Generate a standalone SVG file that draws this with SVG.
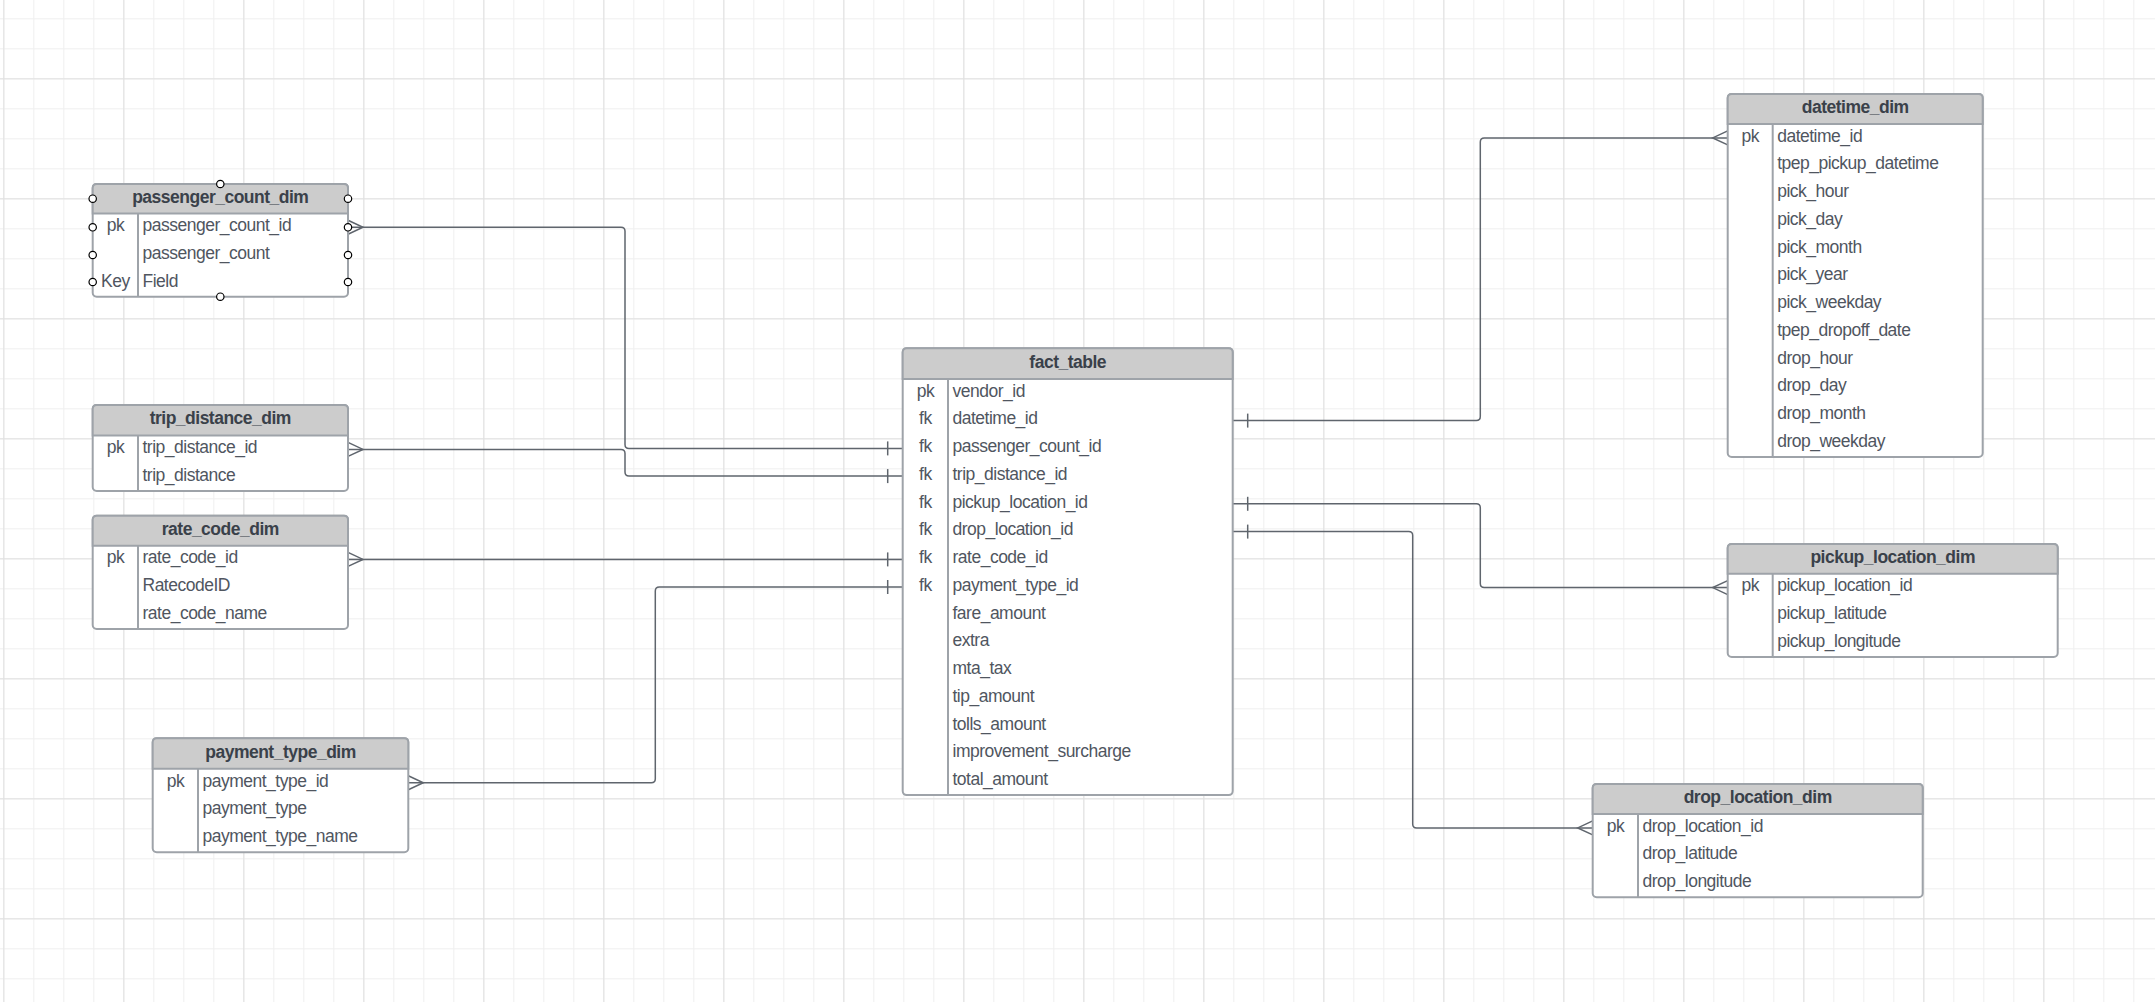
<svg xmlns="http://www.w3.org/2000/svg" width="2155" height="1002" viewBox="0 0 2155 1002">
<style>
.box{fill:#ffffff;stroke:#9ea3a9;stroke-width:2}
.hdr{fill:#cccccc;stroke:#9ea3a9;stroke-width:2}
.sep{stroke:#9ea3a9;stroke-width:2;fill:none}
.ttl{font-family:"Liberation Sans",Arial,sans-serif;font-size:17.5px;letter-spacing:-0.5px;font-weight:bold;fill:#3a414a;text-anchor:middle}
.fld{font-family:"Liberation Sans",Arial,sans-serif;font-size:17.5px;letter-spacing:-0.5px;fill:#50565f}
.key{font-family:"Liberation Sans",Arial,sans-serif;font-size:17.5px;letter-spacing:-0.5px;fill:#50565f;text-anchor:middle}
.con{fill:none;stroke:#5f656d;stroke-width:1.5}
.hnd{fill:#ffffff;stroke:#000000;stroke-width:1.2}
</style>
<defs>
<pattern id="gmin" patternUnits="userSpaceOnUse" x="3.33" y="18.33" width="30" height="30">
<rect x="0" y="0" width="30" height="1" fill="#efefef"/>
<rect x="0" y="0" width="1" height="30" fill="#efefef"/>
</pattern>
<pattern id="gmaj" patternUnits="userSpaceOnUse" x="3.33" y="78.33" width="120" height="120">
<rect x="0" y="0" width="120" height="1" fill="#e0e0e0"/>
<rect x="0" y="0" width="1" height="120" fill="#e0e0e0"/>
</pattern>
<marker id="many" markerUnits="userSpaceOnUse" markerWidth="20" markerHeight="20" refX="15" refY="0" orient="auto-start-reverse" overflow="visible">
<path d="M15,-7 L0,0 L15,7" fill="none" stroke="#5f656d" stroke-width="1.5"/>
</marker>
<marker id="one" markerUnits="userSpaceOnUse" markerWidth="20" markerHeight="20" refX="15" refY="0" orient="auto-start-reverse" overflow="visible">
<path d="M0,-7 L0,7" fill="none" stroke="#5f656d" stroke-width="1.5"/>
</marker>
</defs>
<rect x="0" y="0" width="2155" height="1002" fill="#ffffff"/>
<rect x="0" y="0" width="2155" height="1002" fill="url(#gmin)"/>
<rect x="0" y="0" width="2155" height="1002" fill="url(#gmaj)"/>

<g id="connectors">
<path class="con" marker-start="url(#many)" marker-end="url(#one)" d="M348,227.3 H621 Q625,227.3 625,231.3 V444.4 Q625,448.4 629,448.4 H902.7"/>
<path class="con" marker-start="url(#many)" marker-end="url(#one)" d="M348,449.4 H621 Q625,449.4 625,453.4 V472.1 Q625,476.1 629,476.1 H902.7"/>
<path class="con" marker-start="url(#many)" marker-end="url(#one)" d="M348,559.4 H902.7"/>
<path class="con" marker-start="url(#many)" marker-end="url(#one)" d="M408.3,782.7 H651.3 Q655.3,782.7 655.3,778.7 V591 Q655.3,587 659.3,587 H902.7"/>
<path class="con" marker-start="url(#one)" marker-end="url(#many)" d="M1232.7,420.6 H1476.3 Q1480.3,420.6 1480.3,416.6 V141.9 Q1480.3,137.9 1484.3,137.9 H1727.7"/>
<path class="con" marker-start="url(#one)" marker-end="url(#many)" d="M1232.7,503.8 H1476.3 Q1480.3,503.8 1480.3,507.8 V583.6 Q1480.3,587.6 1484.3,587.6 H1727.7"/>
<path class="con" marker-start="url(#one)" marker-end="url(#many)" d="M1232.7,531.6 H1408.7 Q1412.7,531.6 1412.7,535.6 V823.9 Q1412.7,827.9 1416.7,827.9 H1592.7"/>
</g>

<g id="passenger_count_dim">
<rect class="box" x="92.7" y="184" width="255.3" height="112.7" rx="4"/>
<path class="hdr" d="M92.7,213.5 V188 Q92.7,184 96.7,184 H344 Q348,184 348,188 V213.5 Z"/>
<path class="sep" d="M138,213.5 V296.7"/>
<text class="ttl" x="220.3" y="202.8">passenger_count_dim</text>
<text class="key" x="115.4" y="231.2">pk</text>
<text class="fld" x="142.5" y="231.2">passenger_count_id</text>
<text class="fld" x="142.5" y="258.9">passenger_count</text>
<text class="key" x="115.4" y="286.7">Key</text>
<text class="fld" x="142.5" y="286.7">Field</text>
<circle class="hnd" cx="220.3" cy="184" r="3.7"/>
<circle class="hnd" cx="220.3" cy="296.7" r="3.7"/>
<circle class="hnd" cx="92.7" cy="198.7" r="3.7"/>
<circle class="hnd" cx="348" cy="198.7" r="3.7"/>
<circle class="hnd" cx="92.7" cy="227.3" r="3.7"/>
<circle class="hnd" cx="92.7" cy="255" r="3.7"/>
<circle class="hnd" cx="92.7" cy="282" r="3.7"/>
<circle class="hnd" cx="348" cy="227.3" r="3.7"/>
<circle class="hnd" cx="348" cy="255" r="3.7"/>
<circle class="hnd" cx="348" cy="282" r="3.7"/>
</g>

<g id="trip_distance_dim">
<rect class="box" x="92.7" y="405" width="255.3" height="86" rx="4"/>
<path class="hdr" d="M92.7,435.5 V409 Q92.7,405 96.7,405 H344 Q348,405 348,409 V435.5 Z"/>
<path class="sep" d="M138,435.5 V491"/>
<text class="ttl" x="220.3" y="424.3">trip_distance_dim</text>
<text class="key" x="115.4" y="453.2">pk</text>
<text class="fld" x="142.5" y="453.2">trip_distance_id</text>
<text class="fld" x="142.5" y="480.9">trip_distance</text>
</g>

<g id="rate_code_dim">
<rect class="box" x="92.7" y="515.7" width="255.3" height="113.2" rx="4"/>
<path class="hdr" d="M92.7,545.7 V519.7 Q92.7,515.7 96.7,515.7 H344 Q348,515.7 348,519.7 V545.7 Z"/>
<path class="sep" d="M138,545.7 V628.9"/>
<text class="ttl" x="220.3" y="534.8">rate_code_dim</text>
<text class="key" x="115.4" y="563.4">pk</text>
<text class="fld" x="142.5" y="563.4">rate_code_id</text>
<text class="fld" x="142.5" y="591.1">RatecodeID</text>
<text class="fld" x="142.5" y="618.9">rate_code_name</text>
</g>

<g id="payment_type_dim">
<rect class="box" x="152.7" y="738.3" width="255.6" height="113.9" rx="4"/>
<path class="hdr" d="M152.7,768.8 V742.3 Q152.7,738.3 156.7,738.3 H404.3 Q408.3,738.3 408.3,742.3 V768.8 Z"/>
<path class="sep" d="M198,768.8 V852.2"/>
<text class="ttl" x="280.5" y="757.8">payment_type_dim</text>
<text class="key" x="175.4" y="786.5">pk</text>
<text class="fld" x="202.5" y="786.5">payment_type_id</text>
<text class="fld" x="202.5" y="814.2">payment_type</text>
<text class="fld" x="202.5" y="842">payment_type_name</text>
</g>

<g id="fact_table">
<rect class="box" x="902.7" y="348.3" width="330" height="446.8" rx="4"/>
<path class="hdr" d="M902.7,379 V352.3 Q902.7,348.3 906.7,348.3 H1228.7 Q1232.7,348.3 1232.7,352.3 V379 Z"/>
<path class="sep" d="M948,379 V795.1"/>
<text class="ttl" x="1067.7" y="367.8">fact_table</text>
<text class="key" x="925.4" y="396.7">pk</text>
<text class="fld" x="952.5" y="396.7">vendor_id</text>
<text class="key" x="925.4" y="424.4">fk</text>
<text class="fld" x="952.5" y="424.4">datetime_id</text>
<text class="key" x="925.4" y="452.2">fk</text>
<text class="fld" x="952.5" y="452.2">passenger_count_id</text>
<text class="key" x="925.4" y="479.9">fk</text>
<text class="fld" x="952.5" y="479.9">trip_distance_id</text>
<text class="key" x="925.4" y="507.6">fk</text>
<text class="fld" x="952.5" y="507.6">pickup_location_id</text>
<text class="key" x="925.4" y="535.4">fk</text>
<text class="fld" x="952.5" y="535.4">drop_location_id</text>
<text class="key" x="925.4" y="563.1">fk</text>
<text class="fld" x="952.5" y="563.1">rate_code_id</text>
<text class="key" x="925.4" y="590.8">fk</text>
<text class="fld" x="952.5" y="590.8">payment_type_id</text>
<text class="fld" x="952.5" y="618.6">fare_amount</text>
<text class="fld" x="952.5" y="646.3">extra</text>
<text class="fld" x="952.5" y="674.1">mta_tax</text>
<text class="fld" x="952.5" y="701.8">tip_amount</text>
<text class="fld" x="952.5" y="729.5">tolls_amount</text>
<text class="fld" x="952.5" y="757.3">improvement_surcharge</text>
<text class="fld" x="952.5" y="785">total_amount</text>
</g>

<g id="datetime_dim">
<rect class="box" x="1727.7" y="94" width="255" height="362.9" rx="4"/>
<path class="hdr" d="M1727.7,124 V98 Q1727.7,94 1731.7,94 H1978.7 Q1982.7,94 1982.7,98 V124 Z"/>
<path class="sep" d="M1772.7,124 V456.9"/>
<text class="ttl" x="1855.2" y="113.1">datetime_dim</text>
<text class="key" x="1750.2" y="141.7">pk</text>
<text class="fld" x="1777.2" y="141.7">datetime_id</text>
<text class="fld" x="1777.2" y="169.4">tpep_pickup_datetime</text>
<text class="fld" x="1777.2" y="197.2">pick_hour</text>
<text class="fld" x="1777.2" y="224.9">pick_day</text>
<text class="fld" x="1777.2" y="252.6">pick_month</text>
<text class="fld" x="1777.2" y="280.4">pick_year</text>
<text class="fld" x="1777.2" y="308.1">pick_weekday</text>
<text class="fld" x="1777.2" y="335.9">tpep_dropoff_date</text>
<text class="fld" x="1777.2" y="363.6">drop_hour</text>
<text class="fld" x="1777.2" y="391.3">drop_day</text>
<text class="fld" x="1777.2" y="419.1">drop_month</text>
<text class="fld" x="1777.2" y="446.8">drop_weekday</text>
</g>

<g id="pickup_location_dim">
<rect class="box" x="1727.7" y="544" width="330" height="112.9" rx="4"/>
<path class="hdr" d="M1727.7,573.7 V548 Q1727.7,544 1731.7,544 H2053.7 Q2057.7,544 2057.7,548 V573.7 Z"/>
<path class="sep" d="M1772.7,573.7 V656.9"/>
<text class="ttl" x="1892.7" y="562.9">pickup_location_dim</text>
<text class="key" x="1750.2" y="591.4">pk</text>
<text class="fld" x="1777.2" y="591.4">pickup_location_id</text>
<text class="fld" x="1777.2" y="619.1">pickup_latitude</text>
<text class="fld" x="1777.2" y="646.9">pickup_longitude</text>
</g>

<g id="drop_location_dim">
<rect class="box" x="1592.7" y="784" width="330" height="113.2" rx="4"/>
<path class="hdr" d="M1592.7,814 V788 Q1592.7,784 1596.7,784 H1918.7 Q1922.7,784 1922.7,788 V814 Z"/>
<path class="sep" d="M1638,814 V897.2"/>
<text class="ttl" x="1757.7" y="803.1">drop_location_dim</text>
<text class="key" x="1615.4" y="831.7">pk</text>
<text class="fld" x="1642.5" y="831.7">drop_location_id</text>
<text class="fld" x="1642.5" y="859.4">drop_latitude</text>
<text class="fld" x="1642.5" y="887.2">drop_longitude</text>
</g>
</svg>
